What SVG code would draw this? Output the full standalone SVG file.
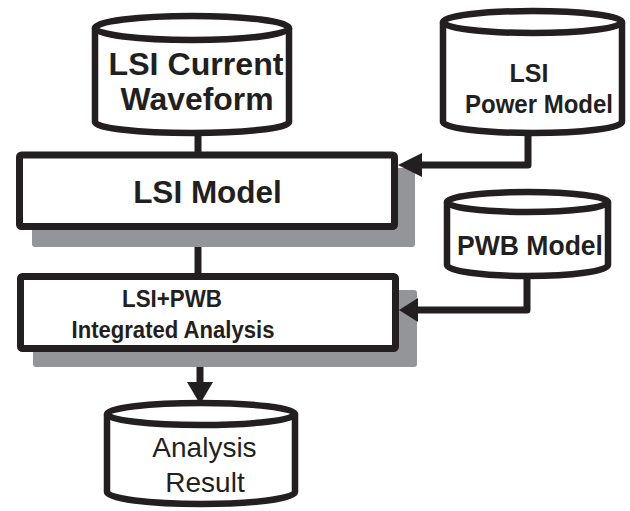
<svg xmlns="http://www.w3.org/2000/svg" width="630" height="511" viewBox="0 0 630 511">
<style>
.cyl{fill:#fff;stroke:#231f20;stroke-width:6.5;stroke-linejoin:round}
.box{fill:#fff;stroke:#231f20;stroke-width:7}
.shadow{fill:#939598}
.ln{fill:none;stroke:#231f20;stroke-width:7;stroke-linejoin:round}
.ah{fill:#231f20}
.tb{font-family:"Liberation Sans",Arial,sans-serif;font-weight:bold;fill:#231f20;text-anchor:middle}
.tr{font-family:"Liberation Sans",Arial,sans-serif;fill:#231f20;text-anchor:middle}
</style>
<rect width="630" height="511" fill="#fff"/>
<g id="lsi-current-waveform">
<path class="cyl" d="M95,28 L95,122 A97,11 0 0 0 289,122 L289,28"/>
<ellipse class="cyl" cx="192" cy="28" rx="97" ry="12"/>
<text class="tb" x="196" y="75" font-size="32" textLength="175" lengthAdjust="spacingAndGlyphs">LSI Current</text>
<text class="tb" x="197" y="110" font-size="32" textLength="153" lengthAdjust="spacingAndGlyphs">Waveform</text>
</g>
<g id="lsi-power-model">
<path class="cyl" d="M443,22 L443,122 A89.5,11 0 0 0 622,122 L622,22"/>
<ellipse class="cyl" cx="532.5" cy="22" rx="89.5" ry="11"/>
<text class="tb" x="529" y="82" font-size="25">LSI</text>
<text class="tb" x="539" y="113" font-size="25" textLength="148" lengthAdjust="spacingAndGlyphs">Power Model</text>
</g>
<g id="lsi-model">
<rect class="shadow" x="32" y="168" width="383" height="79" rx="3"/>
<rect class="box" x="19.5" y="155" width="375" height="71.5" rx="2"/>
<text class="tb" x="207.5" y="203" font-size="31.5">LSI Model</text>
</g>
<g id="pwb-model">
<path class="cyl" d="M447,202 L447,265 A80.5,11 0 0 0 608,265 L608,202"/>
<ellipse class="cyl" cx="527.5" cy="202" rx="80.5" ry="10"/>
<text class="tb" x="530" y="255" font-size="28" textLength="146" lengthAdjust="spacingAndGlyphs">PWB Model</text>
</g>
<g id="integrated-analysis">
<rect class="shadow" x="33" y="290" width="384" height="77" rx="3"/>
<rect class="box" x="20.5" y="276.5" width="375" height="72" rx="2"/>
<text class="tb" x="172" y="307" font-size="23" textLength="100" lengthAdjust="spacingAndGlyphs">LSI+PWB</text>
<text class="tb" x="173" y="338" font-size="23" textLength="203" lengthAdjust="spacingAndGlyphs">Integrated Analysis</text>
</g>
<g id="analysis-result">
<path class="cyl" d="M107,414 L107,492 A94,12 0 0 0 295,492 L295,414"/>
<ellipse class="cyl" cx="201" cy="414" rx="94" ry="11"/>
<text class="tr" x="204.5" y="457" font-size="28">Analysis</text>
<text class="tr" x="205" y="492" font-size="28">Result</text>
</g>
<g id="connectors">
<line class="ln" x1="198" y1="134" x2="198" y2="153"/>
<polyline class="ln" points="528,135 528,165 418,165"/>
<polygon class="ah" points="398,165 422,153 422,177"/>
<line class="ln" x1="198" y1="247" x2="198" y2="274"/>
<polyline class="ln" points="527,279 527,310 414,310"/>
<polygon class="ah" points="399,310 418,298 418,322"/>
<line class="ln" x1="200" y1="367" x2="200" y2="385" stroke-width="10"/>
<polygon class="ah" points="187,382 213,382 200,404"/>
</g>
</svg>
